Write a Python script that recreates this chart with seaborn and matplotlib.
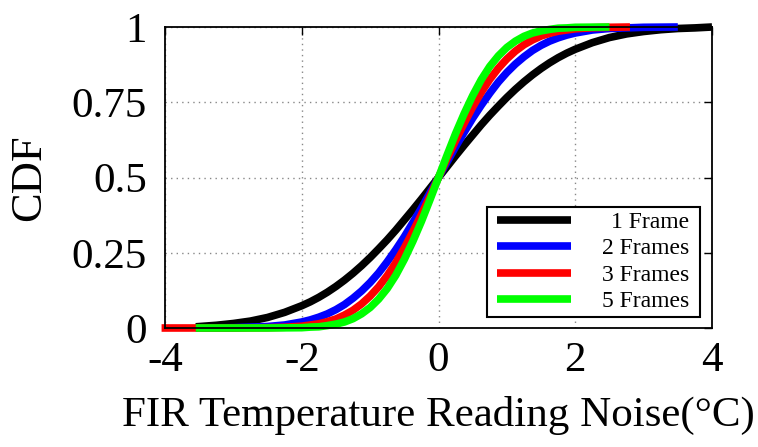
import matplotlib
matplotlib.use("Agg")
import matplotlib.pyplot as plt
from matplotlib.path import Path
import seaborn as sns
import pandas as pd

# ---- data ----
series_names = ["1 Frame", "2 Frames", "3 Frames", "5 Frames"]
series_colors = ["#000000", "#0000ff", "#ff0000", "#00ff00"]

x_core = [-2.0, -1.875, -1.75, -1.625, -1.5, -1.375, -1.25, -1.125, -1.0, -0.875,
          -0.75, -0.625, -0.5, -0.375, -0.25, -0.125, 0.0, 0.125, 0.25, 0.375,
          0.5, 0.625, 0.75, 0.875, 1.0, 1.125, 1.25, 1.375, 1.5, 1.625, 1.75, 1.875, 2.0]

# 1 Frame
x_1frame_left = [-3.55, -3.25, -3.0, -2.75, -2.5, -2.25]
x_1frame_right = [2.25, 2.5, 2.75, 3.0, 3.25, 3.5, 3.75, 4.0]
cdf_1frame = [0.004, 0.009, 0.015, 0.023, 0.035, 0.052,
              0.074, 0.087, 0.102, 0.119, 0.138, 0.159, 0.182, 0.207, 0.234, 0.263,
              0.293, 0.325, 0.359, 0.393, 0.428, 0.464, 0.5,
              0.536, 0.572, 0.607, 0.641, 0.675, 0.707, 0.737, 0.766, 0.793, 0.818,
              0.841, 0.862, 0.881, 0.898, 0.913, 0.926,
              0.948, 0.965, 0.977, 0.985, 0.991, 0.995, 0.997, 1.0]

# 2 Frames
x_2frames_left = [-3.55, -3.0, -2.5, -2.25]
x_2frames_right = [2.25, 2.5, 3.0, 3.5]
cdf_2frames = [0.0, 0.001, 0.005, 0.010,
               0.020, 0.027, 0.036, 0.047, 0.061, 0.078, 0.099, 0.123, 0.151, 0.183,
               0.220, 0.260, 0.303, 0.350, 0.398, 0.449, 0.5,
               0.551, 0.602, 0.650, 0.697, 0.740, 0.780, 0.817, 0.849, 0.877, 0.901,
               0.922, 0.939, 0.953, 0.964, 0.973, 0.980,
               0.990, 0.995, 0.999, 1.0]

# 3 Frames
x_3frames_left = [-4.05, -3.0, -2.5, -2.25]
x_3frames_right = [2.25, 2.5, 2.8]
cdf_3frames = [0.0, 0.0001, 0.001, 0.0025,
               0.006, 0.010, 0.014, 0.021, 0.030, 0.043, 0.059, 0.080, 0.106, 0.137,
               0.174, 0.217, 0.266, 0.320, 0.377, 0.438, 0.5,
               0.562, 0.623, 0.680, 0.734, 0.783, 0.826, 0.863, 0.894, 0.920, 0.941,
               0.957, 0.970, 0.979, 0.986, 0.990, 0.994,
               0.9975, 0.999, 1.0]

# 5 Frames
x_5frames_left = [-3.55, -2.5]
x_5frames_right = [2.5]
cdf_5frames = [0.0, 0.0001,
               0.001, 0.003, 0.004, 0.008, 0.013, 0.020, 0.031, 0.047, 0.068, 0.096,
               0.131, 0.175, 0.228, 0.288, 0.354, 0.426, 0.5,
               0.574, 0.646, 0.712, 0.772, 0.825, 0.869, 0.904, 0.932, 0.953, 0.969,
               0.980, 0.987, 0.992, 0.996, 0.997, 0.999,
               1.0]

x_ticks = [-4, -2, 0, 2, 4]
x_tick_labels = ["-4", "-2", "0", "2", "4"]
y_ticks = [0, 0.25, 0.5, 0.75, 1]
y_tick_labels = ["0", "0.25", "0.5", "0.75", "1"]

# ---- build table ----
xs = [x_1frame_left + x_core + x_1frame_right,
      x_2frames_left + x_core + x_2frames_right,
      x_3frames_left + x_core + x_3frames_right,
      x_5frames_left + x_core + x_5frames_right]
ys = [cdf_1frame, cdf_2frames, cdf_3frames, cdf_5frames]
frames = []
for name, xv, yv in zip(series_names, xs, ys):
    frames.append(pd.DataFrame({"x": xv, "cdf": yv, "series": name}))
df = pd.concat(frames, ignore_index=True)

sns.set_style("white")
plt.rcParams["font.family"] = ["Liberation Serif", "DejaVu Serif"]
plt.rcParams["axes.unicode_minus"] = False
plt.rcParams["text.color"] = "black"
plt.rcParams["axes.labelcolor"] = "black"
plt.rcParams["xtick.color"] = "black"
plt.rcParams["ytick.color"] = "black"

fig = plt.figure(figsize=(7.58, 4.47), dpi=100)
ax = fig.add_axes([165 / 758, 1 - 328 / 447, 547 / 758, 301 / 447])

sns.lineplot(data=df, x="x", y="cdf", hue="series", hue_order=series_names,
             palette=dict(zip(series_names, series_colors)), sort=False,
             estimator=None, linewidth=5.5, legend=False, ax=ax)
for ln in ax.get_lines():
    ln.set_clip_on(False)
    ln.set_solid_capstyle("butt")
    ln.set_solid_joinstyle("round")

ax.set_xlim(-4, 4)
ax.set_ylim(0, 1)
ax.set_xticks(x_ticks)
ax.set_xticklabels(x_tick_labels)
ax.set_yticks(y_ticks)
ax.set_yticklabels(y_tick_labels)
ax.tick_params(direction="in", length=6, width=1, top=True, right=True,
               labelsize=31, colors="black")
ax.tick_params(axis="x", pad=10)
ax.tick_params(axis="y", pad=13)
ax.grid(True, linestyle=(0, (1, 3)), color="#888888", linewidth=1)
ax.set_axisbelow(True)
for s in ax.spines.values():
    s.set_color("black")
    s.set_linewidth(1.3)
    s.set_zorder(3)

ax.set_xlabel("FIR Temperature Reading Noise(°C)", fontsize=31, labelpad=11,
              color="black")
ax.set_ylabel("CDF", fontsize=32, color="black")
ax.yaxis.set_label_coords(-0.212, 0.5)

handles = ax.get_lines()[:4]
leg = ax.legend(handles, series_names, loc="lower right",
                bbox_to_anchor=((694 - 165) / 547, 11 / 301), borderaxespad=0,
                fontsize=17, handlelength=3.13, handletextpad=1.3,
                labelspacing=0.21, borderpad=0.2, fancybox=False,
                framealpha=1, edgecolor="black")
leg.get_frame().set_linewidth(1.5)
for lh in leg.get_lines():
    lh.set_linewidth(5.5)


def wide_box(x0, y0, width, height, mutation_size):
    e = 6.0
    x0 = x0 - e
    width = width + 2 * e
    return Path([(x0, y0), (x0 + width, y0), (x0 + width, y0 + height),
                 (x0, y0 + height), (x0, y0)], closed=True)


leg.get_frame().set_boxstyle(wide_box)

# right-align legend texts
fig.canvas.draw()
r = fig.canvas.get_renderer()
texts = leg.get_texts()
widths = [t.get_window_extent(r).width for t in texts]
mw = max(widths)
col = leg._legend_handle_box.get_children()[0]
for item, w in zip(col.get_children(), widths):
    da = item.get_children()[0]
    da.width += (mw - w) * 72.0 / fig.dpi

fig.savefig("out.png", dpi=100)
